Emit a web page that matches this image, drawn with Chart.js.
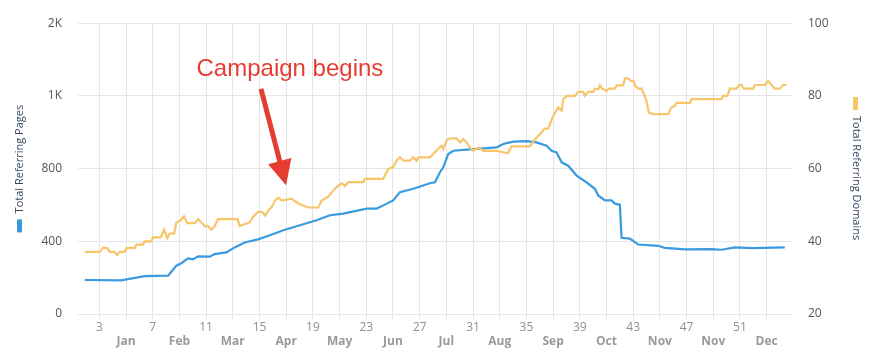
<!DOCTYPE html>
<html>
<head>
<meta charset="utf-8">
<script src="https://cdn.jsdelivr.net/npm/chart.js@4/dist/chart.umd.min.js"></script>
<style>
  html, body { margin: 0; padding: 0; background: #fff; }
  #wrap { width: 870px; height: 353px; }
</style>
</head>
<body>
<div id="wrap"><canvas id="chart" width="870" height="353"></canvas></div>
<script>
// ── Data ────────────────────────────────────────────────
// x values are week numbers
const PAGES_WEEK = [1.91, 4.63, 6.40, 8.15, 8.77, 9.14, 9.64, 10.02, 10.39, 11.27, 11.64, 12.51, 13.14, 13.89, 14.89,
  15.79, 16.78, 18.03, 19.28, 20.28, 21.28, 21.78, 23.03, 23.78, 24.27, 25.02, 25.52, 26.52, 27.77, 28.15, 28.52,
  28.77, 29.14, 29.52, 30.52, 31.27, 32.77, 33.26, 34.01, 35.02, 35.76, 36.51, 36.89, 37.26, 37.64, 38.13, 38.76,
  39.51, 40.13, 40.38, 40.88, 41.38, 41.63, 42.0, 42.13, 42.75, 43.37, 44.87, 45.37, 46.87, 48.87, 49.62, 50.62,
  51.87, 54.36];
const PAGES = [234, 231, 260, 264, 332, 349, 383, 376, 396, 394, 412, 424, 458, 492, 513,
  542, 576, 610, 645, 679, 690, 701, 725, 725, 747, 781, 838, 861, 899, 906, 975,
  1009, 1100, 1123, 1130, 1135, 1146, 1169, 1185, 1189, 1180, 1157, 1123, 1111, 1043, 1020, 952,
  906, 861, 815, 781, 781, 759, 752, 524, 519, 478, 469, 455, 444, 446, 442, 458,
  453, 458];

const DOMAINS_WEEK = [1.91, 3.03, 3.28, 3.60, 3.78, 4.15, 4.33, 4.53, 4.90, 5.07, 5.65, 5.77, 6.27, 6.40, 6.90,
  7.02, 7.60, 7.85, 8.09, 8.27, 8.60, 8.77, 9.10, 9.34, 9.59, 10.15, 10.39, 10.64, 10.90, 11.14, 11.39, 11.64,
  11.89, 13.34, 13.52, 14.27, 14.51, 14.89, 15.17, 15.42, 15.66, 15.91, 16.16, 16.41, 16.66, 17.41, 17.66, 18.03,
  18.66, 19.40, 19.66, 20.15, 20.53, 20.78, 21.16, 21.41, 21.65, 22.78, 22.90, 24.27, 24.65, 25.02, 25.28, 25.52,
  25.77, 26.27, 26.52, 26.78, 26.90, 27.77, 28.02, 28.39, 28.65, 28.77, 29.02, 29.27, 29.77, 30.02, 30.27, 30.52,
  30.77, 31.02, 31.39, 31.76, 32.77, 33.61, 33.89, 35.26, 35.64, 36.01, 36.38, 36.63, 37.01, 37.38, 37.64, 37.76,
  38.01, 38.63, 38.88, 39.26, 39.38, 39.63, 40.00, 40.13, 40.38, 40.51, 40.68, 41.01, 41.18, 41.63, 41.76, 42.25,
  42.38, 42.63, 42.83, 43.00, 43.18, 43.37, 43.63, 43.82, 44.00, 44.17, 44.50, 45.62, 45.87, 46.12, 46.25, 47.25,
  47.37, 49.62, 49.74, 50.07, 50.24, 50.75, 50.92, 51.12, 51.29, 51.99, 52.12, 52.87, 53.11, 53.37, 53.61, 53.99,
  54.24, 54.49];
const DOMAINS = [37.1, 37.1, 38.2, 38.2, 37.1, 37.1, 36.2, 37.1, 37.1, 38.2, 38.2, 39.1, 39.1, 40.0, 40.0,
  41.1, 41.1, 43.2, 40.9, 42.1, 42.1, 45.2, 45.8, 46.9, 45.0, 45.0, 46.1, 45.2, 44.2, 44.2, 43.2, 44.2,
  46.1, 46.1, 44.2, 45.2, 46.7, 48.1, 48.1, 47.1, 48.5, 49.4, 51.2, 52.0, 51.2, 51.7, 51.0, 50.2,
  49.3, 49.3, 51.2, 52.3, 54.0, 54.9, 56.0, 55.2, 56.3, 56.3, 57.2, 57.2, 59.9, 60.4, 62.2, 63.1,
  62.2, 62.2, 63.1, 62.2, 63.1, 63.1, 64.0, 65.5, 66.3, 65.4, 67.7, 68.3, 68.3, 67.2, 68.1, 67.2,
  65.8, 64.9, 65.8, 64.9, 64.9, 64.2, 66.1, 66.1, 68.1, 69.5, 71.0, 71.0, 74.5, 76.8, 75.9, 79.1,
  80.0, 80.0, 81.1, 81.1, 80.0, 81.1, 81.1, 82.0, 81.8, 82.9, 82.0, 81.3, 82.0, 82.0, 82.9, 82.9,
  84.8, 84.8, 84.1, 84.1, 82.7, 82.0, 82.0, 80.4, 78.6, 75.4, 75.0, 75.0, 76.8, 77.2, 78.1, 78.1,
  79.1, 79.1, 80.0, 80.0, 82.0, 82.0, 83.0, 83.0, 82.0, 82.0, 83.0, 83.0, 84.1, 83.0, 82.0, 82.0,
  83.0, 83.0];

// x ticks: every other one carries a week number, the rest a month name
const TICK_WEEKS = [3, 5, 7, 9, 11, 13, 15, 17, 19, 21, 23, 25, 27, 29, 31, 33, 35, 37, 39, 41, 43, 45, 47, 49, 51, 53];
const TICK_NUMBERS = ['3', '7', '11', '15', '19', '23', '27', '31', '35', '39', '43', '47', '51'];
const TICK_MONTHS = ['Jan', 'Feb', 'Mar', 'Apr', 'May', 'Jun', 'Jul', 'Aug', 'Sep', 'Oct', 'Nov', 'Nov', 'Dec'];

// left axis: evenly spaced gridlines with these labels
const LEFT_TICKS = [0, 500, 1000, 1500, 2000];
const LEFT_LABELS = ['0', '400', '800', '1K', '2K'];

const PAGES_LABEL = 'Total Referring Pages';
const DOMAINS_LABEL = 'Total Referring Domains';
const NOTE_TEXT = 'Campaign begins';
// note anchors: [week, domains value]
const NOTE_TEXT_AT = [17.28, 85.4];
const NOTE_TAIL_AT = [15.11, 81.9];
const NOTE_TIP_AT = [16.99, 55.4];

// ── Colours / fonts ─────────────────────────────────────
const BLUE = '#3a9ae0';
const ORANGE = '#f8c56b';
const RED = '#e63d33';
const GRID = '#e5e5e5';
const FONT = "'Open Sans', sans-serif";

// Axis titles with their little colour marker + the campaign note
const overlayPlugin = {
  id: 'overlay',
  afterDraw(chart) {
    const { ctx, chartArea, scales } = chart;
    const midY = (chartArea.top + chartArea.bottom) / 2;
    ctx.save();
    ctx.font = `11px ${FONT}`;
    ctx.fillStyle = '#34495e';
    ctx.textBaseline = 'middle';

    // left title: marker below, text reads bottom → top
    const lw = ctx.measureText(PAGES_LABEL).width;
    const markH = 13, gap = 6;
    const lBottom = midY + (markH + gap + lw) / 2;
    ctx.save();
    ctx.fillStyle = BLUE;
    ctx.fillRect(17, lBottom - markH, 5, markH);
    ctx.restore();
    ctx.save();
    ctx.translate(20, lBottom - markH - gap);
    ctx.rotate(-Math.PI / 2);
    ctx.textAlign = 'left';
    ctx.fillText(PAGES_LABEL, 0, 0);
    ctx.restore();

    // right title: marker above, text reads top → bottom
    const rw = ctx.measureText(DOMAINS_LABEL).width;
    const rTop = midY - (markH + gap + rw) / 2;
    ctx.save();
    ctx.fillStyle = ORANGE;
    ctx.fillRect(853, rTop, 5, markH);
    ctx.restore();
    ctx.save();
    ctx.translate(856, rTop + markH + gap);
    ctx.rotate(Math.PI / 2);
    ctx.textAlign = 'left';
    ctx.fillText(DOMAINS_LABEL, 0, 0);
    ctx.restore();

    // campaign note
    const x = scales.x, yr = scales.y1;
    const tx = x.getPixelForValue(NOTE_TEXT_AT[0]), ty = yr.getPixelForValue(NOTE_TEXT_AT[1]);
    ctx.font = "24px 'Liberation Sans', Arial, sans-serif";
    ctx.fillStyle = RED;
    ctx.textAlign = 'center';
    ctx.textBaseline = 'alphabetic';
    ctx.fillText(NOTE_TEXT, tx, ty);

    const ax = x.getPixelForValue(NOTE_TAIL_AT[0]), ay = yr.getPixelForValue(NOTE_TAIL_AT[1]);
    const bx = x.getPixelForValue(NOTE_TIP_AT[0]), by = yr.getPixelForValue(NOTE_TIP_AT[1]);
    const len = Math.hypot(bx - ax, by - ay);
    const ux = (bx - ax) / len, uy = (by - ay) / len;
    const headL = 25, headW = 12;
    const hx = bx - ux * headL, hy = by - uy * headL;
    ctx.strokeStyle = RED;
    ctx.lineWidth = 5;
    ctx.beginPath();
    ctx.moveTo(ax, ay);
    ctx.lineTo(hx + ux * 2, hy + uy * 2);
    ctx.stroke();
    ctx.beginPath();
    ctx.moveTo(bx, by);
    ctx.lineTo(hx - uy * headW, hy + ux * headW);
    ctx.lineTo(hx + uy * headW, hy - ux * headW);
    ctx.closePath();
    ctx.fill();
    ctx.restore();
  }
};

const toPoints = (xs, ys) => xs.map((w, i) => ({ x: w, y: ys[i] }));

new Chart(document.getElementById('chart'), {
  type: 'line',
  data: {
    datasets: [
      {
        label: DOMAINS_LABEL,
        data: toPoints(DOMAINS_WEEK, DOMAINS),
        yAxisID: 'y1',
        borderColor: ORANGE,
        borderWidth: 2.2,
        pointRadius: 0,
        tension: 0,
        order: 0,
      },
      {
        label: PAGES_LABEL,
        data: toPoints(PAGES_WEEK, PAGES),
        yAxisID: 'y',
        borderColor: BLUE,
        borderWidth: 2.2,
        pointRadius: 0,
        tension: 0,
        order: 1,
      },
    ],
  },
  options: {
    responsive: false,
    animation: false,
    devicePixelRatio: 1,
    layout: { padding: { top: 22, left: 0, right: 0, bottom: 0 } },
    plugins: { legend: { display: false }, tooltip: { enabled: false } },
    scales: {
      x: {
        type: 'linear',
        min: 1.4,
        max: 54.9,
        afterBuildTicks: (s) => { s.ticks = TICK_WEEKS.map(v => ({ value: v })); },
        afterFit: (s) => { s.height = 39; },
        border: { display: false },
        grid: { color: GRID, tickLength: 5, drawTicks: true },
        ticks: {
          autoSkip: false,
          maxRotation: 0,
          padding: 1,
          callback: (v, i) => (i % 2 === 0 ? [TICK_NUMBERS[i / 2], ''] : ['', TICK_MONTHS[(i - 1) / 2]]),
          color: (c) => (c.index % 2 ? '#9a9a9a' : '#8f8f8f'),
          font: (c) => ({ family: FONT, size: 12, weight: c.index % 2 ? 'bold' : 'normal', lineHeight: 1.2 }),
        },
      },
      y: {
        position: 'left',
        min: 0,
        max: 2000,
        afterBuildTicks: (s) => { s.ticks = LEFT_TICKS.map(v => ({ value: v })); },
        afterFit: (s) => { s.width = 78; },
        border: { display: false },
        grid: { color: GRID, drawTicks: false },
        ticks: {
          padding: 16,
          color: '#555',
          font: { family: FONT, size: 12 },
          callback: (v, i) => LEFT_LABELS[i],
        },
      },
      y1: {
        position: 'right',
        min: 20,
        max: 100,
        afterFit: (s) => { s.width = 78; },
        border: { display: false },
        grid: { display: false, drawTicks: false },
        ticks: {
          stepSize: 20,
          padding: 16,
          color: '#555',
          font: { family: FONT, size: 12 },
        },
      },
    },
  },
  plugins: [overlayPlugin],
});
</script>
</body>
</html>
